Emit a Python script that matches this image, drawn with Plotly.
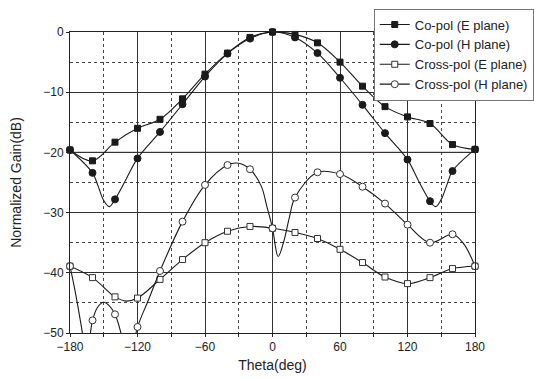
import plotly.graph_objects as go

# ---------------- data ----------------
copol_e_theta = [-180, -160, -140, -120, -100, -80, -60, -40, -20, 0, 20, 40, 60, 80, 100, 120, 140, 160, 180]
copol_e_gain = [-19.6, -21.4, -18.3, -16.0, -14.5, -11.1, -7.0, -3.5, -0.9, 0.0, -0.4, -1.8, -5.0, -9.0, -12.4, -14.1, -15.2, -18.7, -19.5]

copol_h_theta = [-180, -160, -155, -150, -145, -140, -130, -120, -100, -80, -60, -40, -20, 0, 20, 40, 60, 80, 100, 120, 130, 140, 145, 150, 155, 160, 180]
copol_h_gain = [-19.6, -23.4, -25.6, -28.0, -29.0, -27.8, -24.4, -21.0, -16.6, -12.0, -7.4, -3.6, -1.1, 0.0, -0.9, -3.5, -7.6, -12.1, -16.8, -21.2, -24.8, -28.1, -29.0, -27.8, -25.4, -23.1, -19.5]

xpol_e_theta = [-180, -160, -140, -130, -120, -100, -80, -60, -40, -20, 0, 20, 40, 60, 80, 100, 120, 140, 160, 180]
xpol_e_gain = [-38.9, -40.8, -44.0, -44.7, -44.2, -41.1, -37.8, -35.0, -33.1, -32.3, -32.6, -33.3, -34.3, -36.1, -38.3, -40.7, -41.8, -40.8, -39.3, -38.9]

xpol_h_theta = [-180, -175, -170, -165, -160, -155, -150, -145, -140, -135, -130, -125, -120, -110, -100, -80, -60, -40, -30, -20, -10, -5, 0, 5, 10, 15, 20, 40, 60, 80, 100, 120, 140, 160, 170, 180]
xpol_h_gain = [-38.9, -43.5, -48.8, -54.0, -47.9, -45.6, -44.9, -45.5, -46.9, -49.8, -54.0, -53.0, -49.0, -44.4, -39.7, -31.5, -25.4, -22.1, -21.8, -22.8, -25.6, -29.0, -32.6, -37.3, -34.8, -30.8, -27.5, -23.3, -23.6, -25.7, -28.5, -32.0, -35.0, -33.6, -35.2, -38.9]

marker_step = 20  # markers every 20 degrees
series_names = ["Co-pol (E plane)", "Co-pol (H plane)", "Cross-pol (E plane)", "Cross-pol (H plane)"]
x_ticks = [-180, -120, -60, 0, 60, 120, 180]
y_ticks = [0, -10, -20, -30, -40, -50]
ref_level = -20

# ---------------- figure ----------------
LINE = "#1a1a1a"
FONT = "Arial, Liberation Sans, Helvetica, sans-serif"

series = [
    (copol_e_theta, copol_e_gain, dict(symbol="square", color=LINE, size=6, line=dict(color=LINE, width=1))),
    (copol_h_theta, copol_h_gain, dict(symbol="circle", color=LINE, size=7, line=dict(color=LINE, width=1))),
    (xpol_e_theta, xpol_e_gain, dict(symbol="square", color="white", size=6, line=dict(color="#333", width=1))),
    (xpol_h_theta, xpol_h_gain, dict(symbol="circle", color="white", size=7, line=dict(color="#333", width=1))),
]

fig = go.Figure()
for name, (th, g, mk) in zip(series_names, series):
    fig.add_trace(go.Scatter(x=th, y=g, mode="lines", showlegend=False,
                             line=dict(color=LINE, width=1.1, shape="spline", smoothing=1.0),
                             hoverinfo="skip"))
    mx = [t for t in th if t % marker_step == 0]
    my = [v for t, v in zip(th, g) if t % marker_step == 0]
    fig.add_trace(go.Scatter(x=mx, y=my, mode="markers", showlegend=False, marker=mk, cliponaxis=False))
    fig.add_trace(go.Scatter(x=[None], y=[None], mode="lines+markers", name=name,
                             line=dict(color=LINE, width=1.1), marker=mk))

fig.add_shape(type="line", xref="paper", x0=0, x1=1, yref="y", y0=ref_level, y1=ref_level,
              line=dict(color="#8a3535", width=1.2), layer="below")

axis_common = dict(
    showline=True, mirror=True, linecolor="#222", linewidth=1,
    showgrid=True, gridcolor="#333", gridwidth=1,
    ticks="outside", ticklen=3, tickcolor="#222",
    tickfont=dict(family=FONT, size=12, color="#222"),
    zeroline=False,
)

fig.update_xaxes(**axis_common, range=[-180, 180], tickmode="array", tickvals=x_ticks,
                 minor=dict(dtick=30, showgrid=True, griddash="dot", gridcolor="#444", gridwidth=1,
                            ticks="outside", ticklen=3, tickcolor="#222"),
                 title=dict(text="Theta(deg)", font=dict(family=FONT, size=14, color="#222"), standoff=6))
fig.update_yaxes(**axis_common, range=[-50, 0], tickmode="array", tickvals=y_ticks,
                 minor=dict(dtick=5, showgrid=True, griddash="dot", gridcolor="#444", gridwidth=1),
                 title=dict(text="Normalized Gain(dB)", font=dict(family=FONT, size=14, color="#222"), standoff=18))

fig.update_layout(
    width=534, height=378,
    margin=dict(l=70, r=59, t=32, b=45, autoexpand=False),
    paper_bgcolor="white", plot_bgcolor="white",
    font=dict(family=FONT, size=13, color="#222"),
    legend=dict(x=0.75, y=1.078, xanchor="left", yanchor="top",
                bgcolor="white", bordercolor="#777", borderwidth=1,
                font=dict(family=FONT, size=13, color="#222"),
                tracegroupgap=0, itemwidth=30),
)

fig.write_html("out.html")
